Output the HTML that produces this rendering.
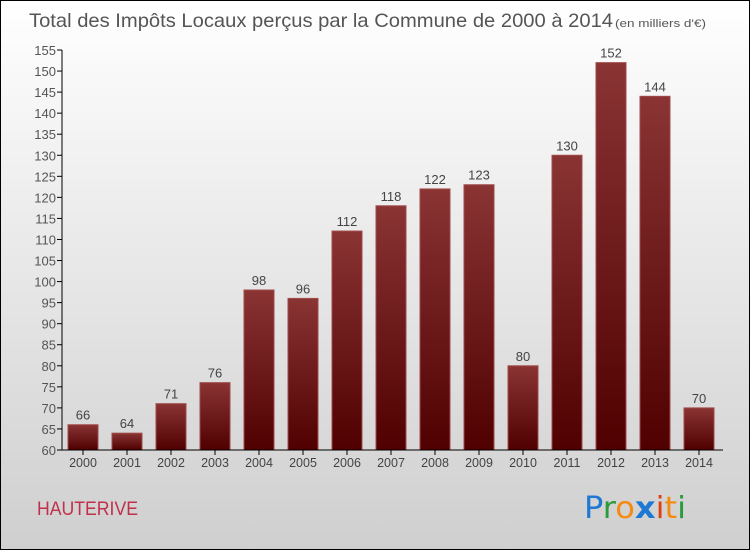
<!DOCTYPE html>
<html><head><meta charset="utf-8"><style>
body{margin:0;}
#c{position:relative;width:748px;height:548px;border:1px solid #000;background:linear-gradient(#ffffff,#cfcfcf);font-family:"Liberation Sans",sans-serif;overflow:hidden}
</style></head><body>
<div id="c">
<svg width="748" height="548" xmlns="http://www.w3.org/2000/svg" id="svg">
<defs><linearGradient id="bg" x1="0" y1="0" x2="0" y2="1"><stop offset="0" stop-color="#8a3434"/><stop offset="1" stop-color="#500000"/></linearGradient></defs>
<text x="28" y="26" font-size="19.5" fill="#555" textLength="584" lengthAdjust="spacingAndGlyphs">Total des Impôts Locaux perçus par la Commune de 2000 à 2014</text>
<text x="614" y="26" font-size="11" fill="#555" textLength="91" lengthAdjust="spacingAndGlyphs">(en milliers d'€)</text>
<text x="36" y="514" font-size="19" fill="#c0304a" textLength="101" lengthAdjust="spacingAndGlyphs">HAUTERIVE</text>
<g font-size="30" font-family="'DejaVu Sans',sans-serif">
<text x="583" y="517" textLength="102" lengthAdjust="spacingAndGlyphs"><tspan fill="#1f78d1">P</tspan><tspan fill="#2a9a3a">r</tspan><tspan fill="#f58a10">o</tspan><tspan fill="#1f78d1" font-weight="bold">x</tspan><tspan fill="#e04010">i</tspan><tspan fill="#f58a10">t</tspan><tspan fill="#2a9a3a">i</tspan></text></g>
<g id="plot"></g>
</svg>
</div>
<script>
const years=["2000","2001","2002","2003","2004","2005","2006","2007","2008","2009","2010","2011","2012","2013","2014"];
const values=[66,64,71,76,98,96,112,118,122,123,80,130,152,144,70];
const ticks=[60,65,70,75,80,85,90,95,100,105,110,115,120,125,130,135,140,145,150,155];
const NS="http://www.w3.org/2000/svg";
const g=document.getElementById('plot');
const y=v=>449-(v-60)*400/95;
const x0=60,band=44;
const xc=i=>x0+band*i+22;
function mk(t,a){const e=document.createElementNS(NS,t);for(const k in a)e.setAttribute(k,a[k]);g.appendChild(e);return e;}
ticks.forEach(t=>{
 const l=mk('line',{x1:56,x2:61,y1:y(t),y2:y(t),stroke:'#000'});
 
 
 const tx=mk('text',{x:55,y:y(t)+5,'text-anchor':'end','font-size':13,fill:'#555'});
 tx.textContent=t;
 
 
});
years.forEach((yr,i)=>{
 const v=values[i];
 const r=mk('rect',{x:xc(i)-15,y:y(v),width:30,height:y(60)-y(v),fill:'url(#bg)',stroke:'#a04a4a','stroke-width':1});
 
 
 const t=mk('text',{x:xc(i),y:y(v)-5,'text-anchor':'middle','font-size':13,fill:'#444'});
 t.textContent=v;
 
 
 const tk=mk('line',{x1:xc(i),x2:xc(i),y1:y(60),y2:y(60)+5,stroke:'#000'});
 
 
 const xl=mk('text',{x:xc(i),y:y(60)+17,'text-anchor':'middle','font-size':12.5,fill:'#444'});
 xl.textContent=yr;
 
 
});
const ya=mk('line',{x1:61,x2:61,y1:y(155),y2:y(60),stroke:'#000'});


const xa=mk('line',{x1:61,x2:722,y1:y(60),y2:y(60),stroke:'#000'});


</script>
</body></html>
